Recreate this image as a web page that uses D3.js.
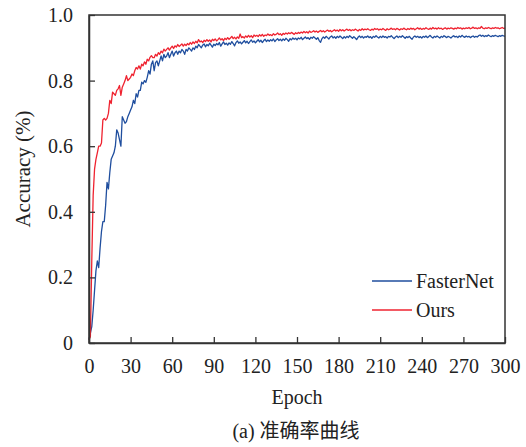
<!DOCTYPE html>
<html>
<head>
<meta charset="utf-8">
<script src="https://d3js.org/d3.v7.min.js"></script>
<style>
  body { margin: 0; background: #fff; }
  text { fill: #222; }
</style>
</head>
<body>
<script>
// accuracy per epoch, epochs 0..300
const fasterNet = [
  0.010, 0.030, 0.050, 0.100, 0.160, 0.220, 0.250, 0.230, 0.290, 0.340,
  0.370, 0.370, 0.420, 0.490, 0.470, 0.520, 0.560, 0.570, 0.580, 0.600,
  0.650, 0.640, 0.620, 0.600, 0.690, 0.680, 0.670, 0.675, 0.690, 0.700,
  0.710, 0.720, 0.740, 0.730, 0.760, 0.750, 0.770, 0.770, 0.795, 0.790,
  0.800, 0.795, 0.810, 0.830, 0.820, 0.850, 0.860, 0.830, 0.855, 0.860,
  0.845, 0.860, 0.875, 0.860, 0.880, 0.870, 0.875, 0.885, 0.870, 0.880,
  0.890, 0.875, 0.885, 0.890, 0.880, 0.890, 0.885, 0.895, 0.890, 0.880,
  0.895, 0.890, 0.900, 0.895, 0.890, 0.900, 0.895, 0.905, 0.900, 0.910,
  0.905, 0.900, 0.908, 0.912, 0.903, 0.910, 0.906, 0.914, 0.908, 0.902,
  0.911, 0.907, 0.913, 0.909, 0.916, 0.905, 0.912, 0.918, 0.910, 0.914,
  0.908, 0.915, 0.911, 0.919, 0.913, 0.906, 0.916, 0.921, 0.914, 0.918,
  0.912, 0.917, 0.922, 0.915, 0.920, 0.913, 0.919, 0.924, 0.917, 0.921,
  0.915, 0.920, 0.925, 0.918, 0.923, 0.916, 0.922, 0.926, 0.919, 0.924,
  0.920, 0.925, 0.921, 0.927, 0.919, 0.924, 0.928, 0.922, 0.926, 0.921,
  0.927, 0.923, 0.929, 0.925, 0.920, 0.928, 0.924, 0.930, 0.926, 0.929,
  0.924, 0.930, 0.927, 0.932, 0.925, 0.929, 0.933, 0.928, 0.931, 0.926,
  0.932, 0.929, 0.934, 0.930, 0.926, 0.931, 0.922, 0.917, 0.928, 0.933,
  0.929, 0.935, 0.931, 0.927, 0.933, 0.936, 0.930, 0.934, 0.929, 0.935,
  0.931, 0.936, 0.932, 0.928, 0.934, 0.930, 0.935, 0.931, 0.937, 0.933,
  0.929, 0.934, 0.930, 0.925, 0.932, 0.936, 0.931, 0.935, 0.930, 0.934,
  0.932, 0.936, 0.931, 0.934, 0.929, 0.935, 0.932, 0.937, 0.933, 0.930,
  0.935, 0.931, 0.936, 0.932, 0.934, 0.930, 0.935, 0.933, 0.937, 0.932,
  0.928, 0.933, 0.936, 0.931, 0.935, 0.932, 0.937, 0.933, 0.929, 0.934,
  0.931, 0.935, 0.930, 0.926, 0.933, 0.936, 0.932, 0.935, 0.931, 0.934,
  0.930, 0.935, 0.932, 0.936, 0.931, 0.934, 0.938, 0.933, 0.930, 0.935,
  0.932, 0.936, 0.933, 0.930, 0.935, 0.932, 0.937, 0.934, 0.931, 0.935,
  0.933, 0.930, 0.934, 0.937, 0.933, 0.935, 0.931, 0.936, 0.933, 0.938,
  0.934, 0.932, 0.936, 0.933, 0.935, 0.931, 0.934, 0.936, 0.932, 0.935,
  0.933, 0.937, 0.939, 0.935, 0.938, 0.934, 0.937, 0.935, 0.939, 0.936,
  0.934, 0.937, 0.935, 0.938, 0.936, 0.934, 0.937, 0.935, 0.938, 0.936,
  0.935
];

const ours = [
  0.010, 0.020, 0.250, 0.450, 0.530, 0.560, 0.580, 0.600, 0.600, 0.610,
  0.680, 0.685, 0.680, 0.685, 0.700, 0.740, 0.730, 0.765, 0.760, 0.755,
  0.770, 0.775, 0.785, 0.755, 0.780, 0.790, 0.800, 0.815, 0.800, 0.805,
  0.810, 0.820, 0.815, 0.830, 0.840, 0.835, 0.845, 0.835, 0.850, 0.845,
  0.857, 0.850, 0.865, 0.860, 0.871, 0.876, 0.870, 0.870, 0.880, 0.875,
  0.885, 0.880, 0.890, 0.885, 0.896, 0.890, 0.895, 0.900, 0.893, 0.900,
  0.905, 0.898, 0.906, 0.902, 0.910, 0.904, 0.908, 0.912, 0.905, 0.911,
  0.907, 0.913, 0.909, 0.916, 0.911, 0.918, 0.913, 0.920, 0.915, 0.925,
  0.918, 0.921, 0.916, 0.923, 0.919, 0.925, 0.920, 0.924, 0.918, 0.926,
  0.922, 0.927, 0.921, 0.925, 0.930, 0.924, 0.928, 0.922, 0.929, 0.925,
  0.931, 0.926, 0.930, 0.935, 0.928, 0.932, 0.927, 0.933, 0.929, 0.942,
  0.931, 0.934, 0.930, 0.936, 0.932, 0.938, 0.933, 0.937, 0.931, 0.939,
  0.935, 0.938, 0.934, 0.940, 0.936, 0.941, 0.935, 0.939, 0.937, 0.942,
  0.938, 0.940, 0.937, 0.943, 0.939, 0.941, 0.945, 0.940, 0.943, 0.938,
  0.944, 0.941, 0.945, 0.942, 0.946, 0.943, 0.947, 0.944, 0.941, 0.946,
  0.943, 0.947, 0.944, 0.948, 0.945, 0.950, 0.946, 0.949, 0.945, 0.951,
  0.947, 0.949, 0.952, 0.948, 0.951, 0.947, 0.950, 0.953, 0.949, 0.952,
  0.948, 0.951, 0.954, 0.950, 0.953, 0.949, 0.952, 0.955, 0.951, 0.954,
  0.950, 0.956, 0.952, 0.955, 0.951, 0.954, 0.957, 0.953, 0.956, 0.952,
  0.955, 0.953, 0.957, 0.954, 0.951, 0.956, 0.953, 0.958, 0.954, 0.957,
  0.955, 0.958, 0.955, 0.953, 0.957, 0.954, 0.959, 0.956, 0.958, 0.954,
  0.957, 0.955, 0.959, 0.956, 0.953, 0.958, 0.955, 0.957, 0.960, 0.956,
  0.958, 0.955, 0.959, 0.957, 0.954, 0.958, 0.956, 0.960, 0.957, 0.955,
  0.959, 0.956, 0.960, 0.957, 0.959, 0.955, 0.958, 0.961, 0.957, 0.960,
  0.956, 0.959, 0.957, 0.961, 0.958, 0.956, 0.960, 0.957, 0.962, 0.958,
  0.960, 0.957, 0.961, 0.958, 0.960, 0.956, 0.959, 0.961, 0.957, 0.960,
  0.958, 0.961, 0.959, 0.957, 0.960, 0.958, 0.962, 0.959, 0.961, 0.957,
  0.960, 0.958, 0.961, 0.959, 0.962, 0.958, 0.960, 0.963, 0.959, 0.961,
  0.958, 0.961, 0.959, 0.965, 0.960, 0.958, 0.961, 0.959, 0.962, 0.960,
  0.958, 0.961, 0.959, 0.962, 0.960, 0.961, 0.958, 0.960, 0.962, 0.959,
  0.960
];

const xTicks = [0, 30, 60, 90, 120, 150, 180, 210, 240, 270, 300];
const yTicks = [0, 0.2, 0.4, 0.6, 0.8, 1.0];
const seriesNames = ["FasterNet", "Ours"];
const seriesColors = ["#1f4e9e", "#ef2330"];

const serif = "'Liberation Serif', 'Times New Roman', Tinos, 'DejaVu Serif', serif";

const w = 526, h = 447;
const margin = { top: 15, right: 21, bottom: 104, left: 89 };
const iw = w - margin.left - margin.right;
const ih = h - margin.top - margin.bottom;

const svg = d3.select("body").append("svg")
  .attr("width", w)
  .attr("height", h);

const g = svg.append("g")
  .attr("transform", "translate(" + margin.left + "," + margin.top + ")");

const xScale = d3.scaleLinear().domain([0, 300]).range([0, iw]);
const yScale = d3.scaleLinear().domain([0, 1]).range([ih, 0]);

// curves
const line = d3.line()
  .x((d, i) => xScale(i))
  .y(d => yScale(d));

[fasterNet, ours].forEach((s, k) => {
  g.append("path")
    .datum(s)
    .attr("fill", "none")
    .attr("stroke", seriesColors[k])
    .attr("stroke-width", 1.3)
    .attr("stroke-linejoin", "round")
    .attr("d", line);
});

// frame
g.append("rect")
  .attr("width", iw)
  .attr("height", ih)
  .attr("fill", "none")
  .attr("stroke", "#333")
  .attr("stroke-width", 1.5);

const xAxis = d3.axisBottom(xScale)
  .tickValues(xTicks)
  .tickFormat(d3.format("d"))
  .tickSizeInner(-6)
  .tickSizeOuter(0)
  .tickPadding(16);

const yAxis = d3.axisLeft(yScale)
  .tickValues(yTicks)
  .tickFormat(d => d === 0 ? "0" : d3.format(".1f")(d))
  .tickSizeInner(-6)
  .tickSizeOuter(0)
  .tickPadding(16);

const gx = g.append("g")
  .attr("transform", "translate(0," + ih + ")")
  .call(xAxis);
const gy = g.append("g").call(yAxis);

[gx, gy].forEach(a => {
  a.attr("font-family", serif).attr("font-size", 20);
  a.select(".domain").attr("stroke", "#333").attr("stroke-width", 1.5);
  a.selectAll(".tick line").attr("stroke", "#333").attr("stroke-width", 1.3);
  a.selectAll(".tick text").attr("fill", "#222");
});

// axis titles
svg.append("text")
  .attr("x", margin.left + iw / 2)
  .attr("y", 404)
  .attr("text-anchor", "middle")
  .style("font-family", serif)
  .style("font-size", "20px")
  .text("Epoch");

svg.append("text")
  .attr("transform", "translate(30,169) rotate(-90)")
  .attr("text-anchor", "middle")
  .style("font-family", serif)
  .style("font-size", "21px")
  .text("Accuracy (%)");

svg.append("text")
  .attr("x", 296)
  .attr("y", 438)
  .attr("text-anchor", "middle")
  .style("font-family", "'Liberation Serif', 'Noto Sans CJK SC', serif")
  .style("font-size", "20px")
  .text("(a) 准确率曲线");

// legend
const legend = svg.append("g");
seriesNames.forEach((name, k) => {
  const ly = 281 + k * 29;
  legend.append("line")
    .attr("x1", 372).attr("x2", 412)
    .attr("y1", ly).attr("y2", ly)
    .attr("stroke", seriesColors[k])
    .attr("stroke-width", 1.3);
  legend.append("text")
    .attr("x", 416)
    .attr("y", ly + 7)
    .style("font-family", serif)
    .style("font-size", "20px")
    .text(name);
});
</script>
</body>
</html>
